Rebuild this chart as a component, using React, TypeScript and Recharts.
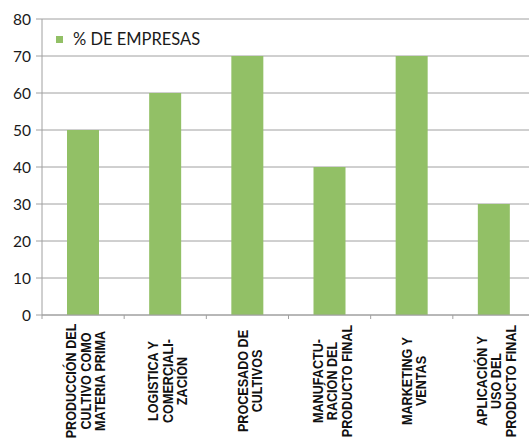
import React from 'react';
import { BarChart, Bar, XAxis, YAxis, CartesianGrid, Legend } from 'recharts';

// valores
const categories = [
  'PRODUCCIÓN DEL\nCULTIVO COMO\nMATERIA PRIMA',
  'LOGISTICA Y\nCOMERCIALI-\nZACIÓN',
  'PROCESADO DE\nCULTIVOS',
  'MANUFACTU-\nRACIÓN DEL\nPRODUCTO FINAL',
  'MARKETING Y\nVENTAS',
  'APLICACIÓN Y\nUSO DEL\nPRODUCTO FINAL',
];
const empresas = [50, 60, 70, 40, 70, 30];
const yTicks = [0, 10, 20, 30, 40, 50, 60, 70, 80];
const seriesName = '% DE EMPRESAS';

const data = categories.map((name, i) => ({ name, value: empresas[i] }));

const CHART_W = 540;
const CHART_H = 441;
const Y_AXIS_W = 42;
const MARGIN = { top: 19, right: 5, left: 0, bottom: 0 };
const BAND = (CHART_W - MARGIN.left - MARGIN.right - Y_AXIS_W) / categories.length;

const BAR_COLOR = '#92c066';
const GRID_COLOR = '#a0a0a0';

const XTick = (props: any) => {
  const { x, y, payload } = props;
  const lines: string[] = String(payload.value).split('\n');
  const n = lines.length;
  return (
    <g>
      <line x1={x - BAND / 2} x2={x - BAND / 2} y1={y} y2={y + 4} stroke={GRID_COLOR} />
      <g transform={`translate(${x},${y + 66}) rotate(-90) scale(0.84,1)`}>
        {lines.map((line, i) => (
          <text
            key={i}
            x={0}
            y={(i - (n - 1) / 2) * 14.5 + 7.5}
            textAnchor="middle"
            fontFamily="'Liberation Sans', Arial, sans-serif"
            fontWeight="bold"
            fontSize={15}
            fill="#111"
          >
            {line}
          </text>
        ))}
      </g>
    </g>
  );
};

const LegendBox = () => (
  <div
    style={{
      display: 'flex',
      alignItems: 'center',
      fontFamily: 'Lato, sans-serif',
      fontSize: 16.5,
      color: '#1a1a1a',
      whiteSpace: 'nowrap',
    }}
  >
    <span style={{ width: 7, height: 7, background: BAR_COLOR, display: 'inline-block', marginRight: 10 }} />
    <span>{seriesName}</span>
  </div>
);

export default function App() {
  return (
    <div
      style={{
        position: 'absolute',
        left: 0,
        top: 0,
        width: 529,
        height: 441,
        overflow: 'hidden',
        background: '#fff',
      }}
    >
      <BarChart width={CHART_W} height={CHART_H} data={data} margin={MARGIN}>
        <CartesianGrid vertical={false} stroke={GRID_COLOR} />
        <XAxis
          dataKey="name"
          interval={0}
          height={126}
          tickLine={false}
          tickSize={0}
          tickMargin={0}
          axisLine={{ stroke: GRID_COLOR }}
          tick={<XTick />}
        />
        <YAxis
          width={Y_AXIS_W}
          domain={[0, 80]}
          ticks={yTicks}
          interval={0}
          tickSize={6}
          tickMargin={5}
          axisLine={{ stroke: GRID_COLOR }}
          tickLine={{ stroke: GRID_COLOR }}
          tick={{ fontFamily: 'Lato, sans-serif', fontSize: 15.5, fill: '#1a1a1a' }}
        />
        <Legend
          layout="horizontal"
          verticalAlign="middle"
          align="center"
          wrapperStyle={{ top: 29, left: 56, width: 200 }}
          content={<LegendBox />}
        />
        <Bar dataKey="value" name={seriesName} fill={BAR_COLOR} barSize={32} isAnimationActive={false} />
      </BarChart>
    </div>
  );
}
